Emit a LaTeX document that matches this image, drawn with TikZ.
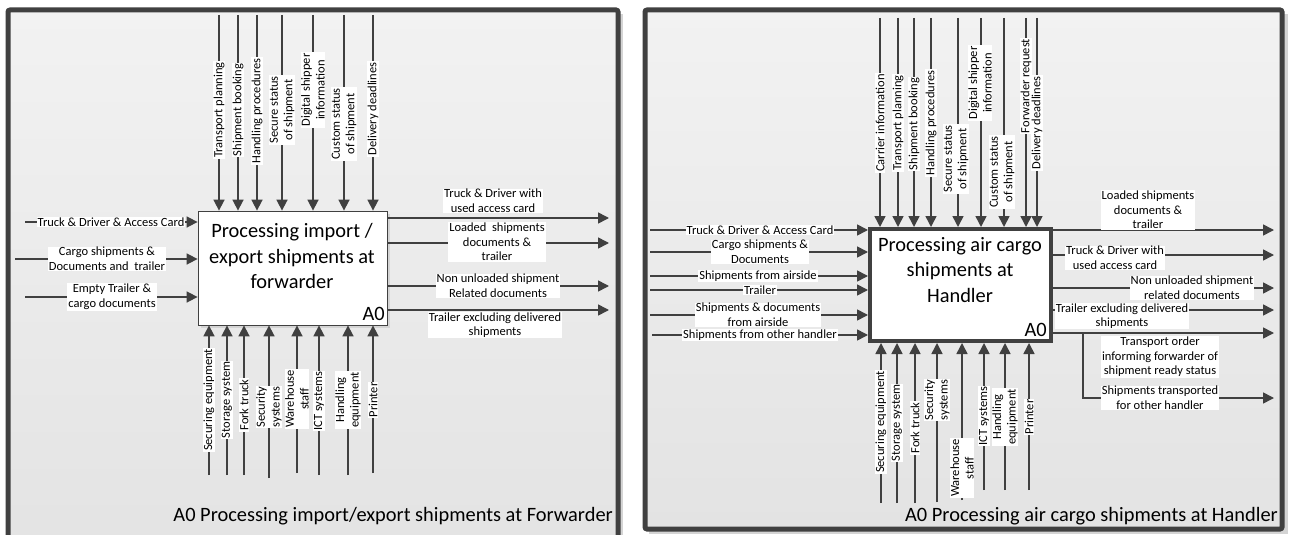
\documentclass[tikz,border=0pt]{standalone}
\usepackage{fontspec}
\setmainfont{Carlito}
\usetikzlibrary{arrows.meta}
\definecolor{dk}{HTML}{404040}
\definecolor{pTop}{HTML}{F2F2F2}
\definecolor{pBot}{HTML}{E3E3E3}
\definecolor{shad}{HTML}{D4D4D4}
\tikzset{
  panel/.style={draw=dk, line width=5pt, top color=pTop, bottom color=pBot, rounded corners=2pt},
  arr/.style={draw=dk, line width=1.6pt, -{Triangle[length=11pt,width=11pt]}},
  lbl/.style={fill=white, inner xsep=1pt, inner ysep=0.8pt, align=center, font=\fontsize{12.5}{14.6}\selectfont},
  vlbl/.style={lbl, rotate=90},
  ttl/.style={font=\fontsize{20.4}{25.5}\selectfont, align=center, inner sep=0pt},
}
\begin{document}
\begin{tikzpicture}[x=1pt,y=-1pt]
\useasboundingbox (0,0) rectangle (1290,535);
\clip (0,0) rectangle (1290,535);
\fill[white] (0,0) rectangle (1290,535);
% ---------------- left panel ----------------
\fill[shad] (12,14) rectangle (623,560);
\draw[panel] (8,10) rectangle (618,560);
\fill[shad] (201,214) rectangle (390,328);
\node[draw=dk, line width=0.8pt, fill=white, minimum width=189pt, minimum height=114pt, inner sep=0pt] (A) at (292.5,268) {};
\node[ttl] (Atitle) at (292,256) {Processing import /\\export shipments at\\forwarder};
\node[ttl, anchor=east] (Aid) at (385,314) {A0};
% controls
\foreach \x/\yc/\t [count=\i] in {219/110/{Transport planning},238/110/{Shipment booking},257/111/{Handling procedures},282/110/{Secure status\\of shipment},313/90/{Digital shipper\\information},344/124/{Custom status\\of shipment},373/109/{Delivery deadlines}}{
  \coordinate (ac\i) at (\x,15);
  \draw[arr] (ac\i) -- (ac\i |- A.north);
  \node[vlbl] (acl\i) at (\x,\yc) {\t};
}
% mechanisms
\foreach \x/\yb/\yc/\t [count=\i] in {209/475/400/{Securing equipment},227/475/400/{Storage system},244/475/405/{Fork truck},269/478/407/{Security\\systems},297/473/399/{Warehouse\\staff},319/475/401/{ICT systems},348/475/400/{Handling\\equipment},373/473/400/{Printer}}{
  \coordinate (am\i) at (\x,\yb);
  \draw[arr] (am\i) -- (am\i |- A.south);
  \node[vlbl] (aml\i) at (\x,\yc) {\t};
}
% inputs
\foreach \xs/\y/\xl/\t [count=\i] in {25/222/111/{Truck \& Driver \& Access Card},15/259/107/{Cargo shipments \&\\Documents and \ trailer},25/297/112/{Empty Trailer \&\\cargo documents}}{
  \coordinate (ai\i) at (\xs,\y);
  \draw[arr] (ai\i) -- (ai\i -| A.west);
  \node[lbl] (ail\i) at (\xl,\y) {\t};
}
% outputs
\foreach \y/\xl/\yl/\t [count=\i] in {218/493/201/{Truck \& Driver with\\used access card},243/497/242/{Loaded \ shipments\\documents \&\\trailer},286/498/286/{Non unloaded shipment\\Related documents},310/495/325/{Trailer excluding delivered\\shipments}}{
  \coordinate (ao\i) at (A.east |- 0,\y);
  \coordinate (aoe\i) at (609,\y);
  \draw[arr] (ao\i) -- (aoe\i);
  \node[lbl] (aol\i) at (\xl,\yl) {\t};
}
\node[ttl, anchor=east] (Afoot) at (613,516) {A0 Processing import/export shipments at Forwarder};
% ---------------- right panel ----------------
\fill[shad] (649,14) rectangle (1288,534);
\draw[panel] (645,10) rectangle (1282,529);
\node[draw=dk, line width=4pt, fill=white, minimum width=181pt, minimum height=112pt, inner sep=0pt] (B) at (960.5,285) {};
\node[ttl] (Btitle) at (960,270) {Processing air cargo\\shipments at\\Handler};
\node[ttl, anchor=east] (Bid) at (1047,330) {A0};
% controls
\foreach \x/\xl/\yc/\t [count=\i] in {880/880/123/{Carrier information},898/898/123/{Transport planning},914/914/124/{Shipment booking},931/931/123/{Handling procedures},958/956/159/{Secure status\\of shipment},981/980/83/{Digital shipper\\information},1004/1002/172/{Custom status\\of shipment},1026/1026/86/{Forwarder request},1037/1037/123/{Delivery deadlines}}{
  \coordinate (bc\i) at (\x,18);
  \draw[arr] (bc\i) -- (bc\i |- B.north);
  \node[vlbl] (bcl\i) at (\xl,\yc) {\t};
}
% mechanisms
\foreach \x/\yb/\yc/\t [count=\i] in {881/503/422/{Securing equipment},897/503/423/{Storage system},915/503/428/{Fork truck},937/502/400/{Security\\systems},962/500/468/{Warehouse\\staff},984/490/416/{ICT systems},1005/490/417/{Handling\\equipment},1029/490/417/{Printer}}{
  \coordinate (bm\i) at (\x,\yb);
  \draw[arr] (bm\i) -- (bm\i |- B.south);
  \node[vlbl] (bml\i) at (\x,\yc) {\t};
}
% inputs
\foreach \xs/\y/\xl/\t [count=\i] in {650/230/760/{Truck \& Driver \& Access Card},650/252/760/{Cargo shipments \&\\Documents},650/276/758/{Shipments from airside},650/290/760/{Trailer},650/315/758/{Shipments \& documents\\from airside},652/335/760/{Shipments from other handler}}{
  \coordinate (bi\i) at (\xs,\y);
  \draw[arr] (bi\i) -- (bi\i -| B.west);
  \node[lbl] (bil\i) at (\xl,\y) {\t};
}
% outputs
\foreach \y/\xl/\yl/\t [count=\i] in {230/1148/210/{Loaded shipments\\documents \&\\trailer},255/1115/258/{Truck \& Driver with\\used access card},288/1192/288/{Non unloaded shipment\\related documents},310/1122/316/{Trailer excluding delivered\\shipments},333/1160/357/{Transport order\\informing forwarder of\\shipment ready status}}{
  \coordinate (bo\i) at (B.east |- 0,\y);
  \coordinate (boe\i) at (1274,\y);
  \draw[arr] (bo\i) -- (boe\i);
  \node[lbl] (bol\i) at (\xl,\yl) {\t};
}
\coordinate (bbr) at (1083,333);
\coordinate (bbre) at (1274,398);
\draw[arr] (bbr) |- (bbre);
\node[lbl] (bbrl) at (1160,398) {Shipments transported\\for other handler};
\node[ttl, anchor=east] (Bfoot) at (1278,516) {A0 Processing air cargo shipments at Handler};
\end{tikzpicture}
\end{document}
